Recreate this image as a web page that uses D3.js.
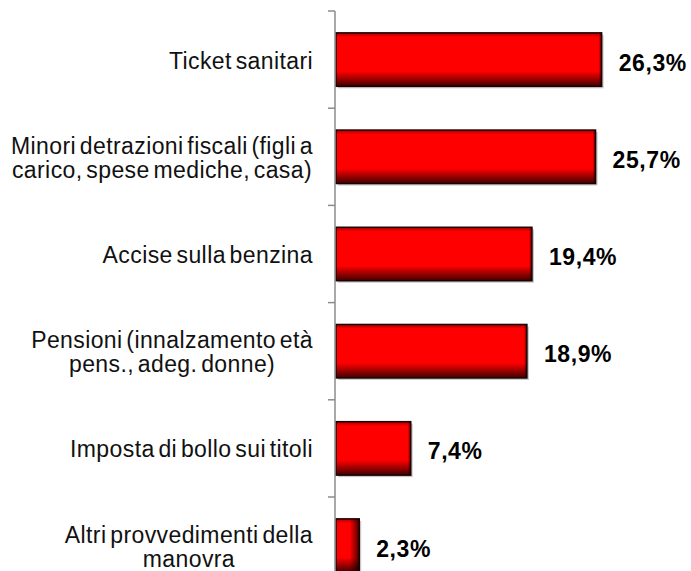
<!DOCTYPE html>
<html>
<head>
<meta charset="utf-8">
<script src="https://cdn.jsdelivr.net/npm/d3@7"></script>
<style>
  html, body { margin: 0; padding: 0; background: #fff; }
  svg { display: block; }
</style>
</head>
<body>
<svg id="chart" width="691" height="571"></svg>
<script>
const categories = [
  ["Ticket sanitari"],
  ["Minori detrazioni fiscali (figli a", "carico, spese mediche, casa)"],
  ["Accise sulla benzina"],
  ["Pensioni (innalzamento età", "pens., adeg. donne)"],
  ["Imposta di bollo sui titoli"],
  ["Altri provvedimenti della", "manovra"]
];
const values = [26.3, 25.7, 19.4, 18.9, 7.4, 2.3];
const valueLabels = ["26,3%", "25,7%", "19,4%", "18,9%", "7,4%", "2,3%"];

const svg = d3.select("#chart");
const keys = categories.map((c, i) => "c" + i);

const x = d3.scaleLinear().domain([0, 30]).range([336, 639]);
const y = d3.scaleBand().domain(keys).range([11, 11 + 6 * 97.2]).paddingInner(0.45).paddingOuter(0.225);

const defs = svg.append("defs");
const gv = defs.append("linearGradient").attr("id", "gv").attr("x1", 0).attr("y1", 0).attr("x2", 0).attr("y2", 1);
gv.append("stop").attr("offset", "0").attr("stop-color", "#000").attr("stop-opacity", 0.35);
gv.append("stop").attr("offset", "0.08").attr("stop-color", "#000").attr("stop-opacity", 0);
gv.append("stop").attr("offset", "0.72").attr("stop-color", "#000").attr("stop-opacity", 0);
gv.append("stop").attr("offset", "1").attr("stop-color", "#000").attr("stop-opacity", 0.75);
const gh = defs.append("linearGradient").attr("id", "gh").attr("x1", 0).attr("y1", 0).attr("x2", 1).attr("y2", 0);
gh.append("stop").attr("offset", "0").attr("stop-color", "#000").attr("stop-opacity", 0);
gh.append("stop").attr("offset", "0.9").attr("stop-color", "#000").attr("stop-opacity", 0);
gh.append("stop").attr("offset", "1").attr("stop-color", "#000").attr("stop-opacity", 0.7);
const ghs = defs.append("linearGradient").attr("id", "ghs").attr("x1", 0).attr("y1", 0).attr("x2", 1).attr("y2", 0);
ghs.append("stop").attr("offset", "0").attr("stop-color", "#000").attr("stop-opacity", 0);
ghs.append("stop").attr("offset", "0.6").attr("stop-color", "#000").attr("stop-opacity", 0);
ghs.append("stop").attr("offset", "1").attr("stop-color", "#000").attr("stop-opacity", 0.7);

const bars = svg.append("g");
values.forEach((v, i) => {
  const bx = x(0), by = y(keys[i]), bw = x(v) - x(0), bh = y.bandwidth();
  const g = bars.append("g");
  g.append("rect").attr("x", bx + 2).attr("y", by + 2).attr("width", bw).attr("height", bh)
    .attr("fill", "#c8c8c8");
  g.append("rect").attr("x", bx).attr("y", by).attr("width", bw).attr("height", bh).attr("fill", "#ff0000");
  g.append("rect").attr("x", bx).attr("y", by).attr("width", bw).attr("height", bh).attr("fill", "url(#gv)");
  const sw = Math.min(bw, 28);
  g.append("rect").attr("x", bx + bw - sw).attr("y", by).attr("width", sw).attr("height", bh)
    .attr("fill", bw < 40 ? "url(#ghs)" : "url(#gh)");
  g.append("rect").attr("x", bx).attr("y", by).attr("width", bw).attr("height", bh)
    .attr("fill", "none").attr("stroke", "#1a0000").attr("stroke-width", 1.5);
});

// axis
const axis = svg.append("g").attr("transform", "translate(335,0)");
axis.append("line").attr("x1", 0).attr("x2", 0).attr("y1", 11).attr("y2", 600)
  .attr("stroke", "#8c8c8c").attr("stroke-width", 1.5);
const step = y.step();
d3.range(7).forEach(k => {
  const ty = 11 + k * step;
  axis.append("line").attr("x1", -7).attr("x2", 0).attr("y1", ty).attr("y2", ty)
    .attr("stroke", "#8c8c8c").attr("stroke-width", 1.5);
});

// category labels
const labelG = svg.append("g").attr("font-family", "'Liberation Sans', Arial, sans-serif")
  .attr("font-size", 23).attr("fill", "#111").attr("word-spacing", -3).attr("letter-spacing", 0.4);
categories.forEach((lines, i) => {
  const cy = y(keys[i]) + y.bandwidth() / 2;
  const t = labelG.append("text").attr("text-anchor", "middle");
  lines.forEach((ln, j) => {
    t.append("tspan").attr("x", 0).attr("y", cy + 9 - (lines.length - 1) * 12 + j * 24).text(ln);
  });
  let maxW = 0;
  t.selectAll("tspan").each(function () { maxW = Math.max(maxW, this.getComputedTextLength()); });
  t.selectAll("tspan").attr("x", 313 - maxW / 2);
});

// value labels
svg.append("g").selectAll("text").data(values).join("text")
  .attr("x", d => x(d) + 17)
  .attr("y", (d, i) => y(keys[i]) + y.bandwidth() / 2 + 11)
  .attr("font-family", "'Liberation Sans', Arial, sans-serif")
  .attr("font-weight", "bold").attr("font-size", 23).attr("letter-spacing", 0.6).attr("fill", "#000")
  .text((d, i) => valueLabels[i]);
</script>
</body>
</html>
